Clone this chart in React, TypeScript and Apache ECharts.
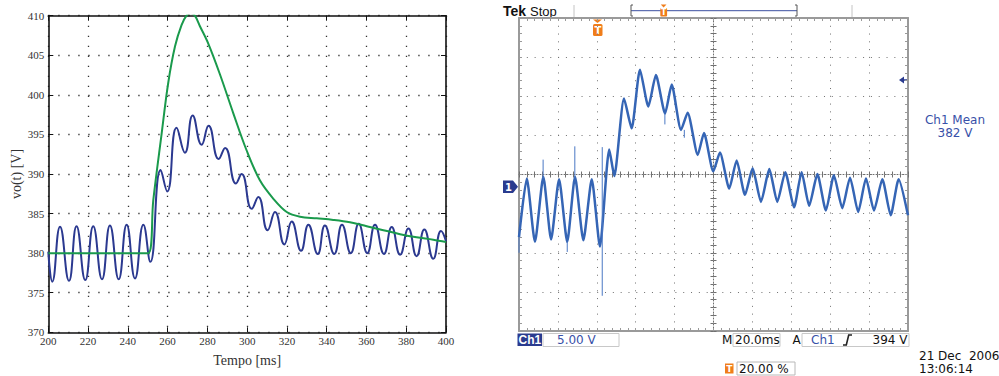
import React, { useEffect, useRef } from "react";
import * as echarts from "echarts";

// ---------- Left plot (simulation) ----------
const simTime = [200, 202, 205.9, 210.4, 214.2, 218.6, 222.6, 227, 231, 235.4, 239.4, 243.6, 247.8, 251.3, 256.5, 259.8, 264.5, 268.7, 272.6, 277.1, 280.6, 285.7, 288.9, 294.4, 297.2, 302.3, 305.6, 310.3, 314, 318.7, 322.4, 327.1, 330.8, 335.5, 339.1, 343.8, 347.7, 352.1, 356.1, 360.4, 364.3, 368.8, 372.7, 376.9, 381.1, 385.2, 389.1, 393.6, 397.5, 400];
const simVo = [380.2, 376.4, 383.35, 376.5, 383.4, 376.6, 383.4, 376.7, 383.5, 376.7, 383.6, 376.8, 383.6, 378.9, 390.5, 387.8, 395.85, 392.7, 397.4, 393.7, 396.1, 391.9, 393.3, 388.8, 390, 385.6, 387.1, 382.9, 385.2, 381.1, 384.0, 380.3, 383.6, 379.9, 383.5, 379.9, 383.6, 380, 383.7, 380, 383.6, 379.9, 383.3, 379.8, 383.1, 379.6, 383.0, 379.3, 382.8, 381.5];

const avgTime = [200, 250.2, 252.8, 257, 260.3, 263.7, 267, 269.5, 271.6, 273.7, 276.2, 280.4, 286.3, 293, 299.7, 306.4, 313.1, 319.9, 326.6, 335, 343.3, 351.7, 360.1, 368.5, 376.9, 385.2, 393.6, 400];
const avgVo = [380, 380, 386.7, 395.1, 401.5, 406.1, 408.8, 410, 410.3, 410, 408.7, 406.5, 402.6, 397.7, 393.0, 389.2, 386.9, 385.2, 384.6, 384.4, 384.2, 383.9, 383.4, 382.9, 382.4, 382, 381.7, 381.4];

const simXRange = [200, 400, 20];
const simYRange = [370, 410, 5];

// ---------- Right plot (oscilloscope) ----------
const scopeTime = [-40, -36.0, -31.8, -27.5, -23.5, -19.4, -15.2, -11.2, -6.9, -2.6, 1.6, 6.4, 9.0, 14.0, 17.9, 22.2, 26.5, 30.4, 35.1, 38.5, 43.3, 46.7, 51.9, 55.1, 59.9, 63.3, 68.1, 71.9, 76.2, 80.1, 84.4, 88.7, 92.8, 96.9, 101.4, 105.3, 109.2, 113.4, 117.8, 121.9, 126.2, 130.2, 134.4, 138.4, 142.5, 146.8, 151.1, 155.2, 160];
const scopeVolt = [374, 381.5, 373.4, 381.7, 373.7, 381.4, 373.4, 381.7, 373.6, 381.4, 372.8, 385.2, 381.8, 391.7, 387.9, 395.4, 390.7, 394.7, 389.8, 393.5, 387.7, 389.9, 384.5, 387.3, 382.4, 384.8, 380.2, 383.8, 379.4, 382.8, 378.5, 382.7, 378.5, 382.3, 377.8, 382.3, 378, 382.05, 377.4, 381.9, 377.7, 381.6, 377.2, 381.5, 377.4, 381.4, 376.8, 381.4, 376.8];

const spikeTime = [-40, -27.6, -15.2, -11.3, 2.8, 35.0, 45.0];
const spikeFrom = [374, 381.5, 373.4, 381.5, 366.5, 389.8, 387.7];
const spikeTo = [372, 383.9, 372.1, 385.6, 385.5, 388.4, 386.7];

const scopeXRange = [-40, 160, 20];
const scopeYRange = [362, 402, 5];

const serif = "Liberation Serif";
const sans = "DejaVu Sans";
const scopeGray = "#9a9a9a";
const dotGray = "#707070";
const navy = "#2a3b8f";
const scopeBlue = "#3850a8";
const orange = "#f07d1a";

function zip(a: number[], b: number[]) {
  return a.map((v, i) => [v, b[i]]);
}

function spikeData() {
  const out: any[] = [];
  spikeTime.forEach((t, i) => {
    out.push([t, spikeFrom[i]]);
    out.push([t, spikeTo[i]]);
    out.push(null);
  });
  return out;
}

function scopeX(extra: any) {
  return {
    gridIndex: 1,
    type: "value",
    min: scopeXRange[0],
    max: scopeXRange[1],
    interval: scopeXRange[2],
    axisLine: { show: true, onZero: false, lineStyle: { color: scopeGray, width: 2 } },
    axisTick: { show: true, inside: true, length: 3, lineStyle: { color: scopeGray } },
    minorTick: { show: true, splitNumber: 5, length: 3, lineStyle: { color: scopeGray } },
    axisLabel: { show: false },
    splitLine: { show: false },
    ...extra,
  };
}
function scopeY(extra: any) {
  return {
    gridIndex: 1,
    type: "value",
    min: scopeYRange[0],
    max: scopeYRange[1],
    interval: scopeYRange[2],
    axisLine: { show: true, onZero: false, lineStyle: { color: scopeGray, width: 2 } },
    axisTick: { show: true, inside: true, length: 3, lineStyle: { color: scopeGray } },
    minorTick: { show: true, splitNumber: 5, length: 3, lineStyle: { color: scopeGray } },
    axisLabel: { show: false },
    splitLine: { show: false },
    ...extra,
  };
}

const centerLine = { show: true, onZero: false, lineStyle: { color: dotGray, width: 1, type: [1, 2] } };
const centerTick = { show: true, length: 3, lineStyle: { color: dotGray } };
const centerMinor = { show: true, splitNumber: 5, length: 3, lineStyle: { color: dotGray } };

function txt(x: number, y: number, text: string, font: string, fill: string, align = "left", valign = "middle") {
  return {
    type: "text",
    x,
    y,
    silent: true,
    style: { text, font, fill, textAlign: align, textVerticalAlign: valign, align, verticalAlign: valign },
  };
}

const graphics: any[] = [
  // top header
  txt(503, 11, "Tek", `bold 14px "Liberation Sans"`, "#111"),
  txt(530, 11, "Stop", `13px "Liberation Sans"`, "#111"),
  { type: "line", shape: { x1: 574, y1: 5, x2: 574, y2: 17 }, style: { stroke: "#c4c4c4", lineWidth: 1 } },
  { type: "line", shape: { x1: 852, y1: 5, x2: 852, y2: 17 }, style: { stroke: "#c4c4c4", lineWidth: 1 } },
  { type: "line", shape: { x1: 631, y1: 10.7, x2: 797, y2: 10.7 }, style: { stroke: "#3c4fa0", lineWidth: 1 } },
  { type: "polyline", shape: { points: [[633, 5], [631, 5], [631, 16], [633, 16]] }, style: { stroke: "#555", fill: null, lineWidth: 1 } },
  { type: "polyline", shape: { points: [[795, 5], [797, 5], [797, 16], [795, 16]] }, style: { stroke: "#555", fill: null, lineWidth: 1 } },
  { type: "polygon", shape: { points: [[660.8, 4.5], [666.5, 4.5], [663.6, 7.5]] }, style: { fill: orange } },
  { type: "rect", shape: { x: 660.3, y: 8, width: 6.8, height: 8.5, r: 1 }, style: { fill: orange } },
  txt(663.7, 12.5, "T", `bold 8px "DejaVu Sans"`, "#fff", "center"),
  // trigger marker under top border
  { type: "polygon", shape: { points: [[593, 19.5], [602, 19.5], [597.5, 23]] }, style: { fill: orange } },
  { type: "rect", shape: { x: 593, y: 24, width: 9.5, height: 12, r: 1.5 }, style: { fill: orange } },
  txt(597.8, 30.3, "T", `bold 10px "DejaVu Sans"`, "#fff", "center"),
  // channel 1 marker
  { type: "polygon", shape: { points: [[503, 180.5], [513, 180.5], [518, 186.7], [513, 193], [503, 193]] }, style: { fill: navy } },
  txt(508.6, 187, "1", `bold 10px "DejaVu Sans"`, "#fff", "center"),
  // trigger level arrow
  { type: "polygon", shape: { points: [[899, 80], [904, 76.5], [904, 83.5]] }, style: { fill: navy } },
  { type: "line", shape: { x1: 903, y1: 80, x2: 908, y2: 80 }, style: { stroke: navy, lineWidth: 1.5 } },
  // measurement
  txt(955, 120, "Ch1 Mean", `12px "${sans}"`, scopeBlue, "center"),
  txt(955, 133, "382 V", `12px "${sans}"`, scopeBlue, "center"),
  // bottom status line
  { type: "rect", shape: { x: 517.5, y: 333.5, width: 24.5, height: 12.5 }, style: { fill: navy } },
  txt(529.8, 340, "Ch1", `bold 12px "Liberation Sans"`, "#fff", "center"),
  { type: "rect", shape: { x: 543, y: 333.5, width: 76, height: 13 }, style: { fill: null, stroke: "#c8c8c8", lineWidth: 1 } },
  txt(557, 340, "5.00 V", `12px "${sans}"`, scopeBlue),
  txt(722, 340, "M", `12px "${sans}"`, "#111"),
  { type: "rect", shape: { x: 733, y: 333.5, width: 47, height: 13 }, style: { fill: null, stroke: "#c8c8c8", lineWidth: 1 } },
  txt(735, 340, "20.0ms", `12px "${sans}"`, "#111"),
  txt(792.5, 340, "A", `12px "${sans}"`, "#111"),
  { type: "rect", shape: { x: 802, y: 333.5, width: 107, height: 13 }, style: { fill: null, stroke: "#c8c8c8", lineWidth: 1 } },
  txt(811, 340, "Ch1", `12px "${sans}"`, scopeBlue),
  { type: "polyline", shape: { points: [[843, 345], [846.3, 345], [848.7, 335], [852, 335]] }, style: { stroke: "#222", fill: null, lineWidth: 1.6 } },
  txt(907.5, 340, "394 V", `12px "${sans}"`, "#111", "right"),
  { type: "rect", shape: { x: 725, y: 363.5, width: 8.5, height: 10 }, style: { fill: orange } },
  txt(729.3, 368.7, "T", `bold 9px "DejaVu Sans"`, "#fff", "center"),
  { type: "rect", shape: { x: 737, y: 362, width: 58, height: 13 }, style: { fill: null, stroke: "#b8b8b8", lineWidth: 1 } },
  txt(739, 368.7, "20.00 %", `12px "${sans}"`, "#111"),
  txt(919, 356, "21 Dec  2006", `12px "${sans}"`, "#111"),
  txt(919, 368.5, "13:06:14", `12px "${sans}"`, "#111"),
];

const option: any = {
  animation: false,
  backgroundColor: "#ffffff",
  grid: [
    { left: 48.3, top: 15.7, width: 397.7, height: 316.6, show: false },
    { left: 519, top: 18, width: 389, height: 313, show: false },
  ],
  xAxis: [
    {
      gridIndex: 0,
      type: "value",
      min: simXRange[0],
      max: simXRange[1],
      interval: simXRange[2],
      position: "bottom",
      axisLine: { show: true, onZero: false, lineStyle: { color: "#111", width: 1.6 } },
      axisTick: { show: true, inside: true, length: 5, lineStyle: { color: "#111" } },
      axisLabel: { color: "#333", fontFamily: serif, fontSize: 11, margin: 3 },
      splitLine: { show: true, lineStyle: { color: "#333", width: 1.3, type: [1.3, 8.7] } },
      name: "Tempo [ms]",
      nameLocation: "middle",
      nameGap: 21,
      nameTextStyle: { fontFamily: serif, fontSize: 14, color: "#333" },
    },
    {
      gridIndex: 0,
      type: "value",
      min: simXRange[0],
      max: simXRange[1],
      interval: simXRange[2],
      position: "top",
      axisLine: { show: true, onZero: false, lineStyle: { color: "#111", width: 1.6 } },
      axisTick: { show: true, inside: true, length: 5, lineStyle: { color: "#111" } },
      axisLabel: { show: false },
      splitLine: { show: false },
    },
    scopeX({
      position: "bottom",
      splitLine: { show: true, lineStyle: { color: dotGray, width: 1, type: [1, 6.78] } },
    }),
    scopeX({ position: "top" }),
    scopeX({ position: "bottom", offset: -156.5, axisLine: centerLine, axisTick: { ...centerTick, inside: true }, minorTick: centerMinor }),
    scopeX({ position: "bottom", offset: -156.5, axisLine: { show: false }, axisTick: { ...centerTick, inside: false }, minorTick: centerMinor }),
  ],
  yAxis: [
    {
      gridIndex: 0,
      type: "value",
      min: simYRange[0],
      max: simYRange[1],
      interval: simYRange[2],
      position: "left",
      axisLine: { show: true, onZero: false, lineStyle: { color: "#111", width: 1.6 } },
      axisTick: { show: true, inside: true, length: 5, lineStyle: { color: "#111" } },
      axisLabel: { color: "#333", fontFamily: serif, fontSize: 11, margin: 4 },
      splitLine: { show: true, lineStyle: { color: "#333", width: 1.3, type: [1.3, 8.7] } },
      name: "vo(t) [V]",
      nameLocation: "middle",
      nameRotate: 90,
      nameGap: 25,
      nameTextStyle: { fontFamily: serif, fontSize: 14, color: "#333" },
    },
    {
      gridIndex: 0,
      type: "value",
      min: simYRange[0],
      max: simYRange[1],
      interval: simYRange[2],
      position: "right",
      axisLine: { show: true, onZero: false, lineStyle: { color: "#111", width: 1.6 } },
      axisTick: { show: true, inside: true, length: 5, lineStyle: { color: "#111" } },
      axisLabel: { show: false },
      splitLine: { show: false },
    },
    scopeY({
      position: "left",
      splitLine: { show: true, lineStyle: { color: dotGray, width: 1, type: [1, 6.82] } },
    }),
    scopeY({ position: "right" }),
    scopeY({ position: "left", offset: -194.5, axisLine: centerLine, axisTick: { ...centerTick, inside: true }, minorTick: centerMinor }),
    scopeY({ position: "left", offset: -194.5, axisLine: { show: false }, axisTick: { ...centerTick, inside: false }, minorTick: centerMinor }),
  ],
  series: [
    {
      type: "line",
      name: "vo simulado",
      xAxisIndex: 0,
      yAxisIndex: 0,
      data: zip(simTime, simVo),
      showSymbol: false,
      smooth: 0.5,
      lineStyle: { color: "#2b3990", width: 2 },
      z: 3,
    },
    {
      type: "line",
      name: "vo medio",
      xAxisIndex: 0,
      yAxisIndex: 0,
      data: zip(avgTime, avgVo),
      showSymbol: false,
      smooth: 0.35,
      lineStyle: { color: "#1a9a4c", width: 2 },
      z: 4,
    },
    {
      type: "line",
      name: "Ch1",
      xAxisIndex: 2,
      yAxisIndex: 2,
      data: zip(scopeTime, scopeVolt),
      showSymbol: false,
      smooth: 0.2,
      lineStyle: { color: "#3565b5", width: 2.5 },
      z: 3,
    },
    {
      type: "line",
      name: "Ch1 spikes",
      xAxisIndex: 2,
      yAxisIndex: 2,
      data: spikeData(),
      showSymbol: false,
      connectNulls: false,
      lineStyle: { color: "#4a78c4", width: 1 },
      z: 3,
    },
  ],
  graphic: graphics,
};

export default function App() {
  const ref = useRef<HTMLDivElement>(null);
  useEffect(() => {
    const chart = echarts.init(ref.current!, null, { renderer: "svg", width: 999, height: 376 });
    chart.setOption(option);
    return () => chart.dispose();
  }, []);
  return (
    <div
      ref={ref}
      style={{ position: "absolute", left: 0, top: 0, width: 999, height: 376, background: "#fff" }}
    />
  );
}
